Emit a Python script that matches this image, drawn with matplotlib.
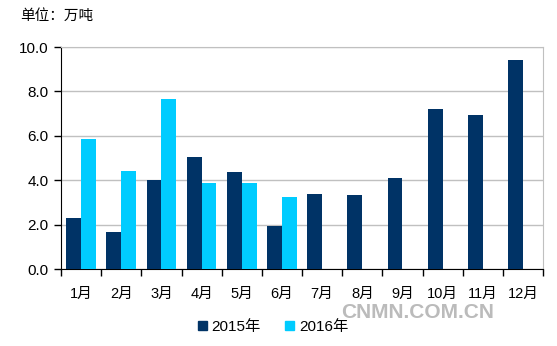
import numpy as np
import matplotlib.pyplot as plt
from matplotlib.patches import Patch

plt.rcParams['font.family'] = ['Liberation Sans', 'Noto Sans CJK SC', 'DejaVu Sans']

months = ['1月', '2月', '3月', '4月', '5月', '6月', '7月', '8月', '9月', '10月', '11月', '12月']
v2015 = [2.3, 1.67, 4.02, 5.05, 4.37, 1.94, 3.38, 3.33, 4.1, 7.2, 6.94, 9.41]
v2016 = [5.86, 4.41, 7.66, 3.87, 3.87, 3.24, 0, 0, 0, 0, 0, 0]

c2015 = '#003366'
c2016 = '#00ccff'

fig = plt.figure(figsize=(5.57, 3.46), dpi=100)
ax = fig.add_axes([0.1095, 0.2225, 0.8655, 0.6415])

x = np.arange(len(months))
w = 0.37
ax.bar(x - w / 2, v2015, w, color=c2015, zorder=3)
ax.bar(x + w / 2, v2016, w, color=c2016, zorder=3)

ax.set_xlim(-0.5, len(months) - 0.5)
ax.set_ylim(0, 10)
ax.set_yticks(np.arange(0, 10.1, 2))
ax.set_yticklabels([f'{v:.1f}' for v in np.arange(0, 10.1, 2)], fontsize=11)
ax.grid(axis='y', color='#c0c0c0', linewidth=1, zorder=0)

ax.set_xticks(x)
ax.set_xticklabels(months, fontsize=10.5)
ax.set_xticks(np.arange(-0.5, len(months)), minor=True)
ax.tick_params(axis='x', which='major', length=0, pad=13)
ax.tick_params(axis='x', which='minor', length=5, width=1, color='black', direction='out')
ax.tick_params(axis='y', length=5, width=1, direction='out', pad=4)

for s in ['top', 'right']:
    ax.spines[s].set_color('#c0c0c0')
ax.spines['left'].set_color('black')
ax.spines['bottom'].set_color('black')

fig.text(0.036, 0.955, '单位：万吨', fontsize=10.5, va='center')

handles = [Patch(color=c2015, label='2015年'), Patch(color=c2016, label='2016年')]
fig.legend(handles=handles, loc='center', bbox_to_anchor=(0.49, 0.055), ncol=2,
           frameon=False, fontsize=11, handlelength=0.6, handleheight=0.6,
           handletextpad=0.3, columnspacing=1.6)

fig.text(0.75, 0.098, 'CNMN.COM.CN', fontsize=15, fontweight='bold',
         color='#bbbbbb', ha='center', va='center')

fig.savefig('out.png', dpi=100)
